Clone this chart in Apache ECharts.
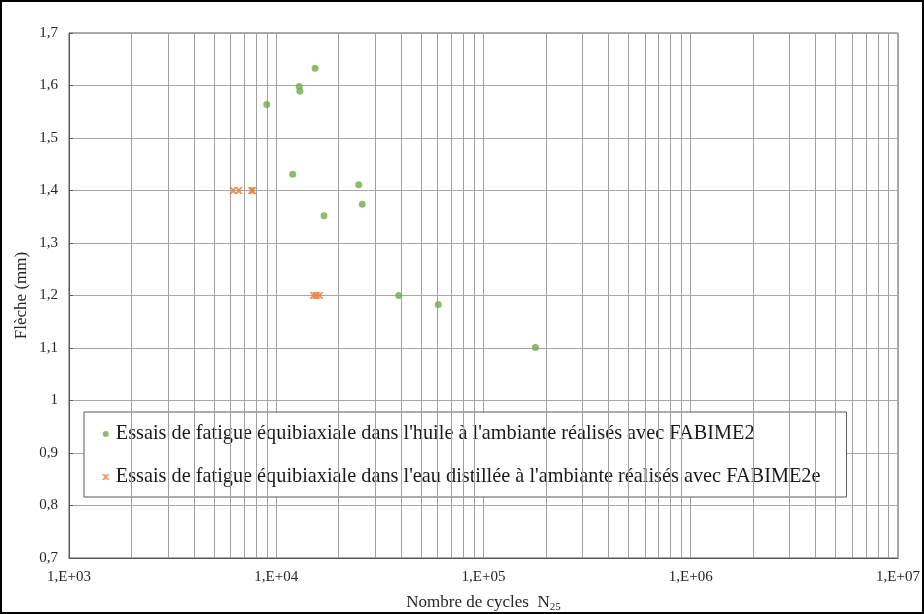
<!DOCTYPE html>
<html><head><meta charset="utf-8">
<script src="https://cdn.jsdelivr.net/npm/echarts@6/dist/echarts.min.js"></script>
<style>html,body{margin:0;padding:0;background:#fff}#c{width:924px;height:614px}</style>
</head><body><div id="c"></div>
<script>
// Data
var oilCycles = [9000, 12900, 13000, 15400, 12000, 25000, 26000, 17000, 39000, 60500, 178000];
var oilFleche = [1.564, 1.598, 1.589, 1.633, 1.431, 1.411, 1.374, 1.352, 1.200, 1.183, 1.101];
var waterCycles = [6200, 6600, 7600, 7700, 15100, 15600, 16200];
var waterFleche = [1.4, 1.4, 1.4, 1.4, 1.2, 1.2, 1.2];
var oilName = "Essais de fatigue équibiaxiale dans l'huile à l'ambiante réalisés avec FABIME2";
var waterName = "Essais de fatigue équibiaxiale dans l'eau distillée à l'ambiante réalisés avec FABIME2e";
var minorX = [];
[1e3, 1e4, 1e5, 1e6].forEach(function (d) { for (var k = 2; k <= 9; k++) minorX.push(k * d); });

var serif = 'Liberation Serif, Times New Roman, serif';
var xMark = 'path://M0,0 L3,0 L5,2 L7,0 L10,0 L6.5,4 L10,8 L7,8 L5,6 L3,8 L0,8 L3.5,4 Z';

var chart = echarts.init(document.getElementById('c'), null, {renderer: 'canvas'});
chart.setOption({
  animation: false,
  backgroundColor: '#fff',
  grid: {left: 69, right: 26, top: 33, bottom: 56, show: true, borderColor: '#595959', borderWidth: 1,
    containLabel: false, outerBoundsMode: 'none'},
  xAxis: {
    type: 'log', logBase: 10, min: 1000, max: 10000000,
    name: 'Nombre de cycles  {s|N}{sub|25}', nameLocation: 'middle', nameGap: 35, nameMoveOverlap: false,
    nameTextStyle: {fontFamily: serif, fontSize: 17, color: '#262626',
      rich: {s: {fontFamily: serif, fontSize: 17, color: '#262626'}, sub: {fontFamily: serif, fontSize: 11, color: '#262626', verticalAlign: 'bottom', padding: [9, 0, 0, 0]}}},
    axisLine: {show: true, lineStyle: {color: '#595959'}},
    axisTick: {show: false},
    splitLine: {show: true, lineStyle: {color: '#a0a0a0', width: 1}},
    axisLabel: {fontFamily: serif, fontSize: 15, color: '#262626', margin: 12,
      formatter: function (v) { var e = Math.round(Math.log10(v)); return '1,E+' + (e < 10 ? '0' : '') + e; }}
  },
  yAxis: {
    type: 'value', min: 0.7, max: 1.7, interval: 0.1,
    name: 'Flèche (mm)', nameLocation: 'middle', nameGap: 39, nameMoveOverlap: false,
    nameTextStyle: {fontFamily: serif, fontSize: 17, color: '#262626'},
    axisLine: {show: true, lineStyle: {color: '#595959'}},
    axisTick: {show: true, inside: true, length: 4, lineStyle: {color: '#595959'}},
    splitLine: {show: true, lineStyle: {color: '#a6a6a6', width: 1}},
    axisLabel: {fontFamily: serif, fontSize: 15, color: '#262626', margin: 11,
      formatter: function (v) { return String(Math.round(v * 10) / 10).replace('.', ','); }}
  },
  legend: {
    orient: 'vertical', left: 84, top: 412,
    backgroundColor: '#fff', borderColor: '#595959', borderWidth: 1,
    padding: [12, 26, 10, 18], itemGap: 23, itemWidth: 10, itemHeight: 6,
    textStyle: {fontFamily: serif, fontSize: 20.3, color: '#1a1a1a'},
    data: [
      {name: oilName, icon: 'circle', itemStyle: {color: '#70ad47'}},
      {name: waterName, icon: xMark, itemStyle: {color: '#ed7d31'}}
    ]
  },
  graphic: [{type: 'rect', shape: {x: 1, y: 1, width: 922, height: 612}, style: {fill: 'none', stroke: '#000', lineWidth: 2}, z: 100}],
  series: [
    {type: 'line', data: [], silent: true, symbol: 'none',
      markLine: {silent: true, symbol: 'none', label: {show: false},
        lineStyle: {color: '#a0a0a0', width: 1, type: 'solid'},
        data: minorX.map(function (v) { return {xAxis: v}; })}},
    {name: oilName, type: 'scatter', symbol: 'circle', symbolSize: 7, itemStyle: {color: '#70ad47'},
      data: oilCycles.map(function (x, i) { return [x, oilFleche[i]]; }), z: 5},
    {name: waterName, type: 'scatter', symbol: xMark, symbolSize: [8, 7], itemStyle: {color: '#ed7d31'},
      data: waterCycles.map(function (x, i) { return [x, waterFleche[i]]; }), z: 5}
  ]
});
</script></body></html>
